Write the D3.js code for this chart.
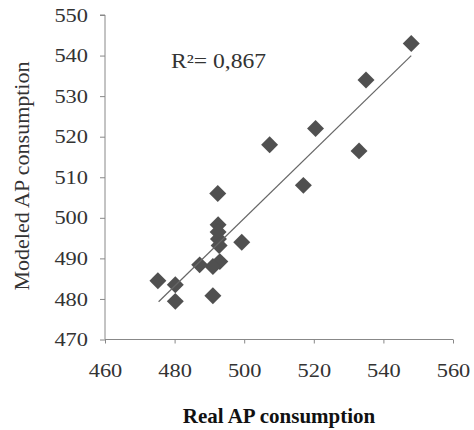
<!DOCTYPE html>
<html>
<head>
<meta charset="utf-8">
<script src="https://cdn.jsdelivr.net/npm/d3@7"></script>
<style>
  body { margin: 0; background: #fff; }
  text { font-family: "Liberation Serif", "Times New Roman", serif; }
</style>
</head>
<body>
<div class="container"></div>
<script>
// real vs modeled AP consumption
var realAP = [548, 535, 520.5, 507.3, 533, 517, 492.4, 492.5, 492.5, 492.6, 492.8, 499.3,
    493, 491, 487.2, 475.2, 480.2, 480.2, 491];
var modeledAP = [543, 534, 522, 518, 516.5, 508, 506, 498.3, 496.5, 494.8, 493.2, 494,
    489.2, 488, 488.4, 484.5, 483.5, 479.4, 480.8];
// trend line ends
var trendX = [475.4, 548];
var trendY = [479.3, 540];
var xTicks = [460, 480, 500, 520, 540, 560];
var yTicks = [470, 480, 490, 500, 510, 520, 530, 540, 550];
var r2Label = 'R\u00b2= 0,867';

var WIDTH = 474, HEIGHT = 430;
var STRETCH = 1.18; // the scan is a bit wide

var xScale = d3.scaleLinear().domain([460, 560]).range([105, 453]);
var yScale = d3.scaleLinear().domain([470, 550]).range([339.5, 15]);

var svg = d3.select('.container').append('svg')
    .attr('width', WIDTH)
    .attr('height', HEIGHT);

svg.append('rect').attr('width', WIDTH).attr('height', HEIGHT).attr('fill', '#fff');

var yAxis = svg.append('g')
    .attr('transform', 'translate(105,0)')
    .call(d3.axisLeft(yScale).tickValues(yTicks).tickSize(5).tickFormat(d3.format('d')));
yAxis.selectAll('text')
    .attr('x', -17 / STRETCH)
    .attr('transform', 'scale(' + STRETCH + ',1)')
    .attr('font-size', 19)
    .attr('fill', '#333');

var xAxis = svg.append('g')
    .attr('transform', 'translate(0,339.5)')
    .call(d3.axisBottom(xScale).tickValues(xTicks).tickSize(4).tickFormat(d3.format('d')));
xAxis.selectAll('text')
    .attr('y', 38)
    .attr('dy', 0)
    .attr('x', 0)
    .attr('transform', 'scale(' + STRETCH + ',1)')
    .attr('font-size', 19)
    .attr('fill', '#333');

svg.selectAll('.domain, .tick line').attr('stroke', '#888');
yAxis.select('.domain').attr('d', 'M-5,' + yScale(550) + 'H0V' + yScale(470));
xAxis.select('.domain').attr('d', 'M' + xScale(460) + ',0H' + xScale(560));

var points = realAP.map(function (d, i) { return {x: d, y: modeledAP[i]}; });

var line = d3.line()
    .x(function (d) { return xScale(d.x); })
    .y(function (d) { return yScale(d.y); });

svg.selectAll('.pt')
    .data(points)
    .enter()
    .append('path')
    .attr('class', 'pt')
    .attr('d', d3.symbol(d3.symbolSquare, 144))
    .attr('transform', function (d) {
        return 'translate(' + xScale(d.x) + ',' + yScale(d.y) + ') rotate(45)';
    })
    .attr('fill', '#505050');

svg.append('path')
    .datum(trendX.map(function (d, i) { return {x: d, y: trendY[i]}; }))
    .attr('d', line)
    .attr('fill', 'none')
    .attr('stroke', '#666')
    .attr('stroke-width', 1.2);

svg.append('text')
    .attr('transform', 'translate(171,68) scale(' + STRETCH + ',1)')
    .attr('font-size', 20)
    .attr('fill', '#333')
    .text(r2Label);

svg.append('text')
    .attr('transform', 'translate(279,423)')
    .attr('text-anchor', 'middle')
    .attr('font-size', 21)
    .attr('font-weight', 'bold')
    .attr('fill', '#111')
    .text('Real AP consumption');

svg.append('text')
    .attr('transform', 'translate(29,176) rotate(-90)')
    .attr('text-anchor', 'middle')
    .attr('font-size', 22)
    .attr('fill', '#333')
    .text('Modeled AP consumption');
</script>
</body>
</html>
